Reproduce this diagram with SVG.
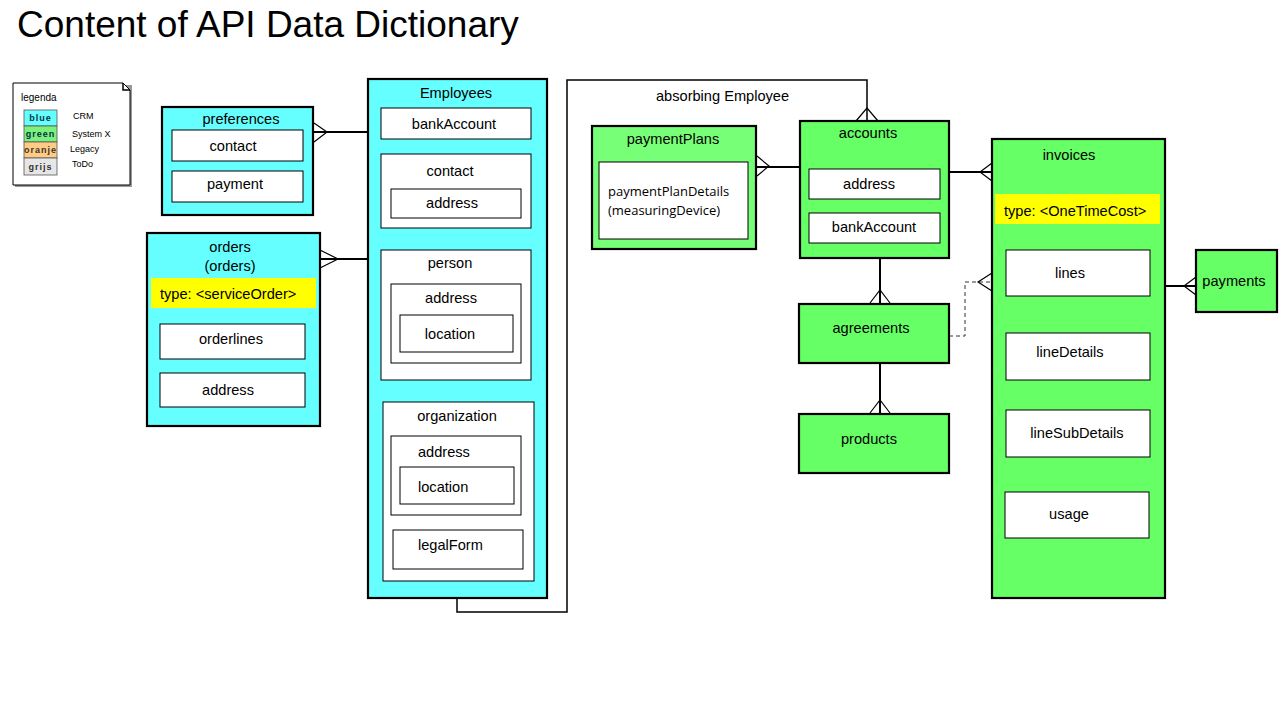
<svg xmlns="http://www.w3.org/2000/svg" width="1280" height="720" viewBox="0 0 1280 720">
<style>
text{font-family:"Liberation Sans",Arial,sans-serif;font-size:14.6px;fill:#000}
.c{text-anchor:middle}
.ent{stroke:#000;stroke-width:2.2}
.blue{fill:#66FFFF}
.green{fill:#66FF66}
.sub{fill:#fff;stroke:#000;stroke-width:1}
.yel{fill:#FFFF00}
.ln{fill:none;stroke:#000;stroke-width:2}
.cf{fill:none;stroke:#000;stroke-width:1.2}
.cal{font-family:"Open Sans","Noto Sans",sans-serif;font-size:13px}
</style>
<rect width="1280" height="720" fill="#fff"/>
<text x="17" y="37" style="font-size:37px">Content of API Data Dictionary</text>

<g id="legend">
<rect x="15" y="85" width="117" height="102" fill="#999"/>
<path d="M13,83 H123 L130,90 V185 H13 Z" fill="#fff" stroke="#000" stroke-width="1"/>
<path d="M123,83 V90 H130" fill="none" stroke="#000" stroke-width="1.5"/>
<text x="21" y="101" style="font-size:10px">legenda</text>
<rect x="24" y="110" width="33" height="16" fill="#66FFFF" stroke="#555" stroke-width="0.8"/>
<rect x="24" y="126" width="33" height="16" fill="#7CF07C" stroke="#555" stroke-width="0.8"/>
<rect x="24" y="142" width="33" height="16" fill="#FFCC88" stroke="#555" stroke-width="0.8"/>
<rect x="24" y="158" width="33" height="17" fill="#E6E6E6" stroke="#555" stroke-width="0.8"/>
<text x="40.5" y="121" class="c" style="font-size:9px;font-weight:bold;letter-spacing:1px;fill:#034">blue</text>
<text x="40.5" y="137" class="c" style="font-size:9px;font-weight:bold;letter-spacing:1px;fill:#034">green</text>
<text x="40.5" y="153" class="c" style="font-size:9px;font-weight:bold;letter-spacing:1px;fill:#432">oranje</text>
<text x="40.5" y="170" class="c" style="font-size:9px;font-weight:bold;letter-spacing:1px;fill:#333">grijs</text>
<text x="73" y="119" style="font-size:9px">CRM</text>
<text x="72" y="137" style="font-size:9px">System X</text>
<text x="70" y="152" style="font-size:9px">Legacy</text>
<text x="72" y="167" style="font-size:9px">ToDo</text>
</g>

<g id="connectors">
<path class="ln" d="M313,132 H368"/>
<path class="cf" d="M314,123 L327,132 L314,142"/>
<path class="ln" d="M320,259 H368"/>
<path class="cf" d="M320,250 L338,259 L320,268"/>
<path class="ln" d="M457,598 V612 H567 V80 H867 V121" style="stroke-width:1.5"/>
<path class="cf" d="M856,121 L867,108 L878,121"/>
<text x="656" y="101">absorbing Employee</text>
<path class="ln" d="M756,167 H800"/>
<path class="cf" d="M757,156 L769,166 L757,176"/>
<path class="ln" d="M949,172 H992"/>
<path class="cf" d="M992,163 L980,172 L992,181"/>
<path class="ln" d="M880,258 V304"/>
<path class="cf" d="M870,303 L880,290 L890,303"/>
<path class="ln" d="M880,363 V414"/>
<path class="cf" d="M870,413 L880,400 L890,413"/>
<path d="M949,336 H965 V282 H992" fill="none" stroke="#333" stroke-width="1" stroke-dasharray="4,3"/>
<path class="cf" d="M992,273 L978,282 L992,291"/>
<path class="ln" d="M1165,286 H1196"/>
<path class="cf" d="M1196,277 L1184,286 L1196,295"/>
</g>

<g id="preferences">
<rect x="162" y="107" width="151" height="108" class="ent blue"/>
<text x="241" y="124" class="c">preferences</text>
<rect x="172" y="130" width="131" height="31" class="sub"/>
<text x="233" y="151" class="c">contact</text>
<rect x="172" y="171" width="131" height="31" class="sub"/>
<text x="235" y="189" class="c">payment</text>
</g>

<g id="orders">
<rect x="147" y="233" width="173" height="193" class="ent blue"/>
<text x="230" y="252" class="c">orders</text>
<text x="230" y="271" class="c">(orders)</text>
<rect x="151" y="278" width="165" height="30" class="yel"/>
<text x="160" y="299">type: &lt;serviceOrder&gt;</text>
<rect x="160" y="324" width="145" height="35" class="sub"/>
<text x="231" y="344" class="c">orderlines</text>
<rect x="160" y="373" width="145" height="34" class="sub"/>
<text x="228" y="395" class="c">address</text>
</g>

<g id="employees">
<rect x="368" y="79" width="179" height="519" class="ent blue"/>
<text x="456" y="98" class="c">Employees</text>
<rect x="381" y="108" width="150" height="31" class="sub"/>
<text x="454" y="129" class="c">bankAccount</text>
<rect x="381" y="154" width="150" height="74" class="sub"/>
<text x="450" y="176" class="c">contact</text>
<rect x="391" y="189" width="130" height="29" class="sub"/>
<text x="452" y="208" class="c">address</text>
<rect x="381" y="250" width="150" height="130" class="sub"/>
<text x="450" y="268" class="c">person</text>
<rect x="391" y="284" width="130" height="79" class="sub"/>
<text x="451" y="303" class="c">address</text>
<rect x="400" y="315" width="113" height="37" class="sub"/>
<text x="450" y="339" class="c">location</text>
<rect x="383" y="402" width="151" height="179" class="sub"/>
<text x="457" y="421" class="c">organization</text>
<rect x="391" y="436" width="130" height="79" class="sub"/>
<text x="418" y="457">address</text>
<rect x="400" y="467" width="114" height="37" class="sub"/>
<text x="418" y="492">location</text>
<rect x="393" y="530" width="130" height="39" class="sub"/>
<text x="418" y="550">legalForm</text>
</g>

<g id="paymentPlans">
<rect x="592" y="126" width="164" height="123" class="ent" fill="#77FF77"/>
<text x="673" y="144" class="c">paymentPlans</text>
<rect x="599" y="162" width="149" height="77" class="sub"/>
<text x="608" y="196" class="cal">paymentPlanDetails</text>
<text x="608" y="215" class="cal">(measuringDevice)</text>
</g>

<g id="accounts">
<rect x="800" y="121" width="149" height="137" class="ent green"/>
<text x="868" y="138" class="c">accounts</text>
<rect x="809" y="169" width="131" height="30" class="sub"/>
<text x="869" y="189" class="c">address</text>
<rect x="809" y="213" width="131" height="30" class="sub"/>
<text x="874" y="232" class="c">bankAccount</text>
</g>

<g id="agreements">
<rect x="799" y="304" width="150" height="59" class="ent green"/>
<text x="871" y="333" class="c">agreements</text>
</g>

<g id="products">
<rect x="799" y="414" width="150" height="59" class="ent green"/>
<text x="869" y="444" class="c">products</text>
</g>

<g id="invoices">
<rect x="992" y="139" width="173" height="459" class="ent green"/>
<text x="1069" y="160" class="c">invoices</text>
<rect x="995" y="194" width="165" height="30" class="yel"/>
<text x="1004" y="216">type: &lt;OneTimeCost&gt;</text>
<rect x="1006" y="250" width="144" height="46" class="sub"/>
<text x="1070" y="278" class="c">lines</text>
<rect x="1006" y="333" width="144" height="47" class="sub"/>
<text x="1070" y="357" class="c">lineDetails</text>
<rect x="1006" y="410" width="144" height="47" class="sub"/>
<text x="1077" y="438" class="c">lineSubDetails</text>
<rect x="1005" y="492" width="144" height="46" class="sub"/>
<text x="1069" y="519" class="c">usage</text>
</g>

<g id="payments">
<rect x="1196" y="250" width="81" height="62" class="ent green"/>
<text x="1234" y="286" class="c">payments</text>
</g>
</svg>
